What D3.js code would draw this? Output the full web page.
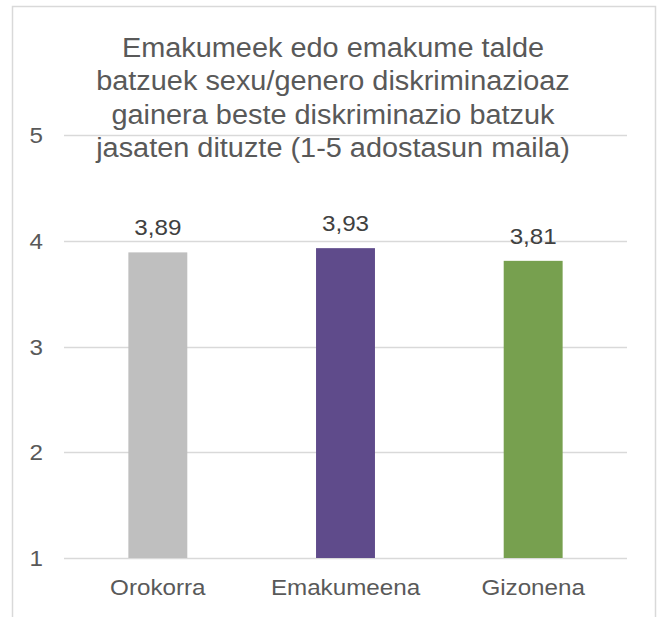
<!DOCTYPE html>
<html>
<head>
<meta charset="utf-8">
<script src="https://cdn.jsdelivr.net/npm/d3@7/dist/d3.min.js"></script>
<style>
  html, body { margin: 0; padding: 0; background: #fff; }
  svg { display: block; font-family: "Liberation Sans", Arial, sans-serif; }
</style>
</head>
<body>
<svg id="chart" width="662" height="617"></svg>
<script>
// Data
const categories = ["Orokorra", "Emakumeena", "Gizonena"];
const values = [3.89, 3.93, 3.81];
const barColors = ["#bfbfbf", "#5f4b8b", "#77a04f"];
const yTicks = [1, 2, 3, 4, 5];
const titleLines = [
  "Emakumeek edo emakume talde",
  "batzuek sexu/genero diskriminazioaz",
  "gainera beste diskriminazio batzuk",
  "jasaten dituzte (1-5 adostasun maila)"
];

const svg = d3.select("#chart");
const W = 662, H = 617;

// Chart frame (open at the bottom edge)
svg.append("rect")
  .attr("x", 12.5).attr("y", 6.5)
  .attr("width", 643).attr("height", H + 20)
  .attr("fill", "#fff")
  .attr("stroke", "#d9d9d9")
  .attr("stroke-width", 1.5);

const plot = { left: 64, right: 627, top: 135, bottom: 558 };

const x = d3.scaleBand()
  .domain(categories)
  .range([plot.left, plot.right])
  .paddingInner(0.686)
  .paddingOuter(0.343);

const y = d3.scaleLinear()
  .domain([1, 5])
  .range([plot.bottom, plot.top]);

// Horizontal gridlines
svg.append("g")
  .selectAll("line")
  .data(yTicks)
  .join("line")
  .attr("x1", plot.left).attr("x2", plot.right)
  .attr("y1", d => Math.round(y(d)) + 0.5)
  .attr("y2", d => Math.round(y(d)) + 0.5)
  .attr("stroke", "#d9d9d9")
  .attr("stroke-width", 1.5);

// Helper for horizontally widened text
function stretchedText(g, xPos, yPos, anchor, sx) {
  return g.attr("transform", `translate(${xPos},${yPos}) scale(${sx},1)`)
    .attr("text-anchor", anchor);
}

// Y axis tick labels
const yAxis = svg.append("g");
yTicks.forEach(t => {
  stretchedText(yAxis.append("text"), 43, y(t) + 8, "end", 1.1)
    .attr("font-size", 22)
    .attr("fill", "#595959")
    .text(d3.format("d")(t));
});

// Bars
svg.append("g")
  .selectAll("rect")
  .data(values)
  .join("rect")
  .attr("x", (d, i) => x(categories[i]))
  .attr("width", x.bandwidth())
  .attr("y", d => y(d))
  .attr("height", d => y(1) - y(d))
  .attr("fill", (d, i) => barColors[i]);

// Value labels (decimal comma)
const fmt = v => d3.format(".2f")(v).replace(".", ",");
const labels = svg.append("g");
values.forEach((v, i) => {
  stretchedText(labels.append("text"), x(categories[i]) + x.bandwidth() / 2, y(v) - 17, "middle", 1.1)
    .attr("font-size", 22)
    .attr("fill", "#404040")
    .text(fmt(v));
});

// Category labels
const cats = svg.append("g");
categories.forEach(c => {
  stretchedText(cats.append("text"), x(c) + x.bandwidth() / 2, 595, "middle", 1.1)
    .attr("font-size", 22)
    .attr("fill", "#595959")
    .text(c);
});

// Title
const title = svg.append("g");
titleLines.forEach((line, i) => {
  stretchedText(title.append("text"), 333, 57 + i * 33.3, "middle", 1.07)
    .attr("font-size", 27)
    .attr("fill", "#595959")
    .text(line);
});
</script>
</body>
</html>
